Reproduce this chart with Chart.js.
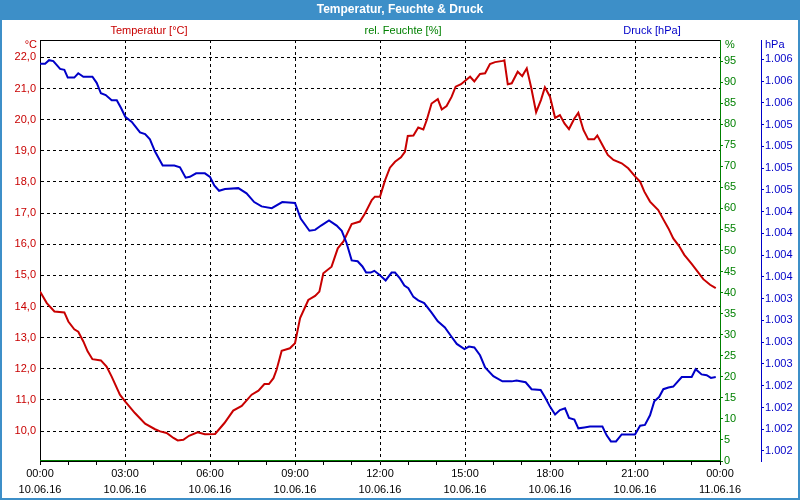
<!DOCTYPE html>
<html lang="de">
<head>
<meta charset="UTF-8">
<title>Temperatur, Feuchte & Druck</title>
<script src="https://cdn.jsdelivr.net/npm/chart.js"></script>
<style>
  html, body { margin: 0; padding: 0; background: #fff; }
  #wrap { width: 800px; height: 500px; }
</style>
</head>
<body>
<div id="wrap"><canvas id="weatherChart" width="800" height="500"></canvas></div>
<script>
// data, x = hours since 10.06.16 00:00
const tempHours = [0, 0.24, 0.51, 0.86, 1.0, 1.21, 1.35, 1.53, 1.68, 1.85, 2.15, 2.35, 2.53, 2.82, 3.01, 3.35, 3.71, 4.06, 4.24, 4.47, 4.71, 4.86, 5.06, 5.26, 5.56, 5.82,
    6.18, 6.51, 6.82, 7.12, 7.47, 7.71, 7.92, 8.08, 8.24, 8.35, 8.53, 8.82, 9.0, 9.18, 9.47, 9.71, 9.86, 10.0, 10.29, 10.51, 10.71, 11.0, 11.29, 11.47, 11.71, 11.82,
    12.0, 12.18, 12.35, 12.53, 12.74, 12.88, 12.98, 13.18, 13.35, 13.53, 13.65, 13.82, 14.04, 14.18, 14.35, 14.53, 14.67, 14.86, 15.18, 15.33, 15.53, 15.71, 15.88, 16.06, 16.33, 16.39, 16.51, 16.65, 16.86, 17.02, 17.18, 17.33, 17.51, 17.68, 17.82,
    18.0, 18.18, 18.35, 18.51, 18.67, 18.86, 19.0, 19.18, 19.35, 19.56, 19.67, 19.85, 20.04, 20.24, 20.53, 20.76, 21.01, 21.18, 21.33, 21.53, 21.82, 22.0, 22.18, 22.35, 22.55, 22.74, 23.0, 23.21, 23.41, 23.65, 23.85];
const tempValues = [14.48, 14.11, 13.84, 13.81, 13.52, 13.27, 13.19, 12.88, 12.56, 12.31, 12.27, 12.07, 11.75, 11.17, 10.95, 10.58, 10.24, 10.06, 9.99, 9.94, 9.78, 9.70, 9.72, 9.85, 9.96, 9.90,
    9.91, 10.26, 10.66, 10.81, 11.17, 11.30, 11.51, 11.51, 11.70, 11.97, 12.58, 12.66, 12.82, 13.63, 14.21, 14.34, 14.48, 15.07, 15.28, 15.87, 16.09, 16.65, 16.73, 16.99, 17.42, 17.53,
    17.53, 18.06, 18.46, 18.65, 18.79, 18.97, 19.48, 19.49, 19.75, 19.69, 19.99, 20.52, 20.66, 20.33, 20.44, 20.74, 21.06, 21.14, 21.38, 21.23, 21.47, 21.49, 21.79, 21.85, 21.89, 21.91, 21.14, 21.17, 21.54, 21.40, 21.65, 21.06, 20.24, 20.63, 21.04,
    20.74, 20.06, 20.15, 19.88, 19.70, 20.04, 20.22, 19.67, 19.37, 19.37, 19.49, 19.19, 18.87, 18.71, 18.60, 18.44, 18.17, 18.01, 17.69, 17.37, 17.10, 16.80, 16.51, 16.19, 15.95, 15.66, 15.37, 15.12, 14.88, 14.70, 14.59];

const pressHours = [0, 0.18, 0.32, 0.47, 0.71, 0.86, 0.98, 1.21, 1.35, 1.53, 1.85, 2.0, 2.15, 2.32, 2.53, 2.71, 2.86, 3.01, 3.24, 3.53, 3.71, 3.88, 4.06, 4.33, 4.74, 4.94, 5.14, 5.29, 5.51, 5.82,
    6.0, 6.15, 6.32, 6.53, 7.0, 7.29, 7.56, 7.82, 8.18, 8.55, 9.0, 9.2, 9.51, 9.71, 9.92, 10.2, 10.47, 10.65, 10.82, 11.0, 11.21, 11.38, 11.51, 11.67, 11.8,
    12.0, 12.2, 12.41, 12.53, 12.71, 12.86, 13.0, 13.18, 13.35, 13.56, 13.82, 14.04, 14.29, 14.53, 14.71, 14.98, 15.14, 15.33, 15.53, 15.71, 16.0, 16.32, 16.65, 16.82, 17.14, 17.35, 17.67, 17.82,
    18.0, 18.18, 18.35, 18.53, 18.67, 18.86, 19.0, 19.21, 19.41, 19.85, 20.0, 20.15, 20.33, 20.53, 21.0, 21.18, 21.35, 21.53, 21.68, 21.85, 22.0, 22.18, 22.35, 22.65, 23.0, 23.14, 23.35, 23.53, 23.68, 23.85];
const pressValues = [1005.95, 1005.95, 1005.99, 1005.98, 1005.89, 1005.88, 1005.79, 1005.79, 1005.84, 1005.80, 1005.80, 1005.73, 1005.61, 1005.59, 1005.53, 1005.53, 1005.44, 1005.34, 1005.28, 1005.16, 1005.14, 1005.08, 1004.94, 1004.78, 1004.78, 1004.76, 1004.64, 1004.65, 1004.69, 1004.69,
    1004.65, 1004.55, 1004.49, 1004.51, 1004.52, 1004.46, 1004.36, 1004.31, 1004.29, 1004.36, 1004.35, 1004.17, 1004.03, 1004.04, 1004.09, 1004.15, 1004.09, 1004.03, 1003.89, 1003.69, 1003.68, 1003.62, 1003.55, 1003.55, 1003.57,
    1003.52, 1003.46, 1003.55, 1003.55, 1003.48, 1003.40, 1003.37, 1003.27, 1003.23, 1003.20, 1003.09, 1002.99, 1002.92, 1002.81, 1002.73, 1002.67, 1002.70, 1002.69, 1002.60, 1002.46, 1002.36, 1002.30, 1002.30, 1002.31, 1002.29, 1002.21, 1002.20, 1002.12,
    1002.01, 1001.92, 1001.97, 1001.99, 1001.88, 1001.86, 1001.76, 1001.77, 1001.78, 1001.78, 1001.68, 1001.61, 1001.61, 1001.69, 1001.69, 1001.79, 1001.80, 1001.91, 1002.07, 1002.12, 1002.21, 1002.23, 1002.24, 1002.35, 1002.35, 1002.44, 1002.38, 1002.37, 1002.34, 1002.35];

// humidity sensor delivered nothing that day -> flat 0
const humHours = [0, 24];
const humValues = [0, 0];

// axis ticks and labels
const xTickHours = [0, 3, 6, 9, 12, 15, 18, 21, 24];
const xTickTimes = ['00:00', '03:00', '06:00', '09:00', '12:00', '15:00', '18:00', '21:00', '00:00'];
const xTickDates = ['10.06.16', '10.06.16', '10.06.16', '10.06.16', '10.06.16', '10.06.16', '10.06.16', '10.06.16', '11.06.16'];
const xMinorHours = [0, 1, 2, 3, 4, 5, 6, 7, 8, 9, 10, 11, 12, 13, 14, 15, 16, 17, 18, 19, 20, 21, 22, 23, 24];
const tempTicks = [10, 11, 12, 13, 14, 15, 16, 17, 18, 19, 20, 21, 22];
const tempTickLabels = ['10,0', '11,0', '12,0', '13,0', '14,0', '15,0', '16,0', '17,0', '18,0', '19,0', '20,0', '21,0', '22,0'];
const humTicks = [0, 5, 10, 15, 20, 25, 30, 35, 40, 45, 50, 55, 60, 65, 70, 75, 80, 85, 90, 95];
const pressTicks = [1001.5, 1001.75, 1002, 1002.25, 1002.5, 1002.75, 1003, 1003.25, 1003.5, 1003.75, 1004, 1004.25, 1004.5, 1004.75, 1005, 1005.25, 1005.5, 1005.75, 1006];
const pressTickLabels = ['1.002', '1.002', '1.002', '1.002', '1.003', '1.003', '1.003', '1.003', '1.004', '1.004', '1.004', '1.004', '1.005', '1.005', '1.005', '1.005', '1.006', '1.006', '1.006'];

const chartTitle = 'Temperatur, Feuchte & Druck';
const seriesNames = ['Temperatur [°C]', 'rel. Feuchte [%]', 'Druck [hPa]'];

const RED = '#c80000';
const GREEN = '#008000';
const BLUE = '#0000c8';
const BAR = '#3d8fc8';
const FONT = '"Liberation Sans", Arial, sans-serif';

function pts(xs, ys) {
    return xs.map((x, i) => ({x: x, y: ys[i]}));
}

// title bar, frame and the little labels above the plot
const decor = {
    id: 'decor',
    beforeDraw(chart) {
        const c = chart.ctx;
        c.save();
        c.fillStyle = '#ffffff';
        c.fillRect(0, 0, chart.width, chart.height);
        c.fillStyle = BAR;
        c.fillRect(0, 0, chart.width, 20);
        c.restore();
    },
    afterDraw(chart) {
        const c = chart.ctx;
        const a = chart.chartArea;
        c.save();
        c.strokeStyle = BAR;
        c.lineWidth = 2;
        c.strokeRect(1, 1, chart.width - 2, chart.height - 2);

        c.strokeStyle = '#000';
        c.lineWidth = 1;
        c.beginPath();
        c.moveTo(a.left, a.top + 0.5);
        c.lineTo(a.right, a.top + 0.5);
        c.stroke();

        c.textBaseline = 'middle';
        c.textAlign = 'center';
        c.fillStyle = '#fff';
        c.font = 'bold 12px ' + FONT;
        c.fillText(chartTitle, chart.width / 2, 10);

        c.font = '11px ' + FONT;
        c.fillStyle = RED;
        c.fillText(seriesNames[0], 149, 31);
        c.fillStyle = GREEN;
        c.fillText(seriesNames[1], 403, 31);
        c.fillStyle = BLUE;
        c.fillText(seriesNames[2], 652, 31);

        c.textAlign = 'right';
        c.fillStyle = RED;
        c.fillText('°C', 37, 45);
        c.textAlign = 'left';
        c.fillStyle = GREEN;
        c.fillText('%', 725, 45);
        c.fillStyle = BLUE;
        c.fillText('hPa', 765, 45);
        c.restore();
    }
};

const ctx = document.getElementById('weatherChart').getContext('2d');
new Chart(ctx, {
    type: 'line',
    data: {
        datasets: [
            {label: seriesNames[2], data: pts(pressHours, pressValues), yAxisID: 'y3', borderColor: BLUE, borderWidth: 2},
            {label: seriesNames[0], data: pts(tempHours, tempValues), yAxisID: 'y', borderColor: RED, borderWidth: 2},
            {label: seriesNames[1], data: pts(humHours, humValues), yAxisID: 'y2', borderColor: GREEN, borderWidth: 2}
        ]
    },
    options: {
        responsive: false,
        animation: false,
        layout: {padding: {left: 0, right: 2, top: 40, bottom: 0}},
        elements: {point: {radius: 0}, line: {tension: 0, fill: false}},
        plugins: {legend: {display: false}, tooltip: {enabled: false}},
        scales: {
            x: {
                type: 'linear',
                min: 0,
                max: 24,
                afterBuildTicks: s => { s.ticks = xMinorHours.map(v => ({value: v})); },
                afterFit: s => { s.height = 39; },
                ticks: {
                    autoSkip: false,
                    maxRotation: 0,
                    padding: 1,
                    color: '#000',
                    font: {family: FONT, size: 11, lineHeight: 1.45},
                    callback: v => {
                        const i = xTickHours.indexOf(v);
                        return i >= 0 ? [xTickTimes[i], xTickDates[i]] : '';
                    }
                },
                grid: {
                    color: c => (c.tick && c.tick.value % 3 === 0 && c.tick.value > 0 && c.tick.value < 24) ? '#000' : 'rgba(0,0,0,0)',
                    tickColor: '#000',
                    tickLength: 4
                },
                border: {color: '#000', width: 1, dash: [3, 3], z: 1}
            },
            y: {
                position: 'left',
                min: 9.04,
                max: 22.56,
                afterBuildTicks: s => { s.ticks = tempTicks.map(v => ({value: v})); },
                afterFit: s => { s.width = 40; },
                ticks: {
                    color: RED,
                    padding: 4,
                    font: {family: FONT, size: 11},
                    callback: v => tempTickLabels[tempTicks.indexOf(v)]
                },
                grid: {color: '#000', drawTicks: false},
                border: {color: '#000', width: 1, dash: [3, 3]}
            },
            y2: {
                position: 'right',
                weight: 0,
                min: 0,
                max: 100,
                afterBuildTicks: s => { s.ticks = humTicks.map(v => ({value: v})); },
                afterFit: s => { s.width = 41; },
                ticks: {color: GREEN, padding: 1, font: {family: FONT, size: 11}},
                grid: {drawOnChartArea: false, color: GREEN, tickColor: GREEN, tickLength: 3},
                border: {color: GREEN, width: 1}
            },
            y3: {
                position: 'right',
                weight: 1,
                min: 1001.385,
                max: 1006.222,
                afterBuildTicks: s => { s.ticks = pressTicks.map(v => ({value: v})); },
                afterFit: s => { s.width = 37; },
                ticks: {
                    color: BLUE,
                    padding: 1,
                    font: {family: FONT, size: 11},
                    callback: v => pressTickLabels[pressTicks.indexOf(v)]
                },
                grid: {drawOnChartArea: false, color: BLUE, tickColor: BLUE, tickLength: 3},
                border: {color: BLUE, width: 1}
            }
        }
    },
    plugins: [decor]
});
</script>
</body>
</html>
